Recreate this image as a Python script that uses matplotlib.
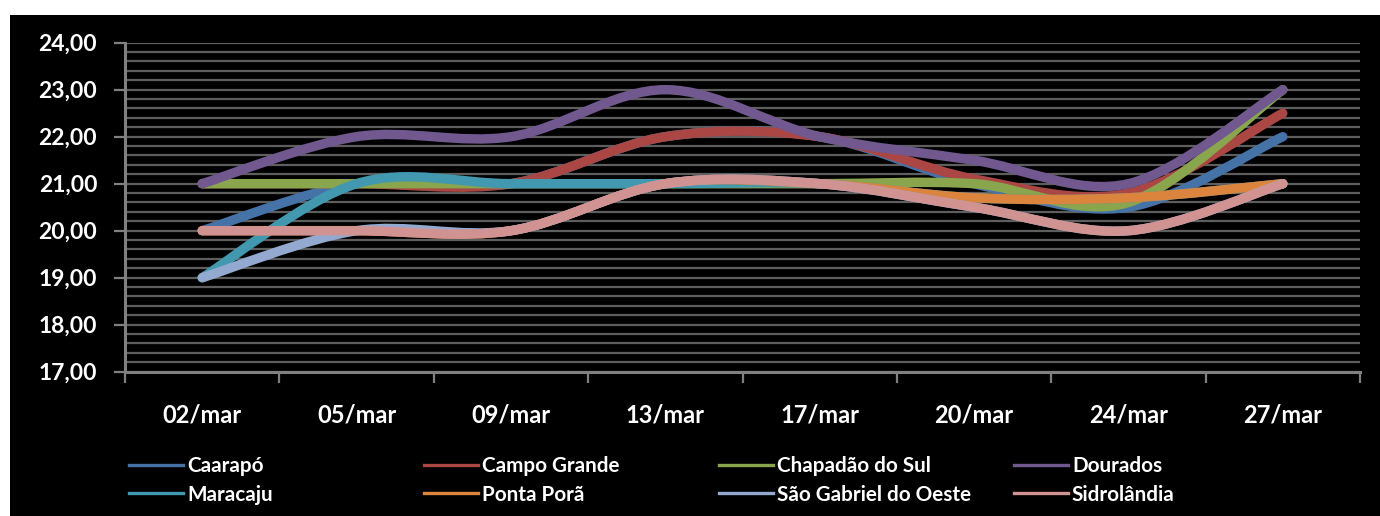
import matplotlib.pyplot as plt
import numpy as np
from matplotlib.path import Path
from matplotlib.patches import PathPatch, Rectangle
from matplotlib.lines import Line2D
from matplotlib.ticker import MultipleLocator, FixedLocator, NullFormatter

plt.rcParams['font.family'] = ['Lato', 'DejaVu Sans']
plt.rcParams['font.weight'] = 'bold'

# Dates on the category axis
dates = ['02/mar', '05/mar', '09/mar', '13/mar', '17/mar', '20/mar', '24/mar', '27/mar']

# Values per city
caarapo = [20.0, 21.0, 21.0, 22.0, 22.0, 21.0, 20.5, 22.0]
campo_grande = [21.0, 21.0, 21.0, 22.0, 22.0, 21.1, 20.8, 22.5]
chapadao = [21.0, 21.0, 21.0, 21.0, 21.0, 21.0, 20.6, 23.0]
dourados = [21.0, 22.0, 22.0, 23.0, 22.0, 21.5, 21.0, 23.0]
maracaju = [19.0, 21.0, 21.0, 21.0, 21.0, 20.7, 20.7, 21.0]
ponta_pora = [20.0, 20.0, 20.0, 21.0, 21.0, 20.7, 20.7, 21.0]
sao_gabriel = [19.0, 20.0, 20.0, 21.0, 21.0, 20.5, 20.0, 21.0]
sidrolandia = [20.0, 20.0, 20.0, 21.0, 21.0, 20.5, 20.0, 21.0]

names = ['Caarapó', 'Campo Grande', 'Chapadão do Sul', 'Dourados',
         'Maracaju', 'Ponta Porã', 'São Gabriel do Oeste', 'Sidrolândia']
series = [caarapo, campo_grande, chapadao, dourados,
          maracaju, ponta_pora, sao_gabriel, sidrolandia]
colors = ['#4572A7', '#AA4643', '#89A54E', '#71588F',
          '#4198AF', '#DB843D', '#93A9CF', '#D19392']


def smooth_path(xs, ys):
    # Catmull-Rom style bezier through every point (spreadsheet "smoothed line")
    pts = np.column_stack([xs, ys]).astype(float)
    n = len(pts)
    verts = [pts[0]]
    codes = [Path.MOVETO]
    for i in range(n - 1):
        p0 = pts[max(i - 1, 0)]
        p1 = pts[i]
        p2 = pts[i + 1]
        p3 = pts[min(i + 2, n - 1)]
        c1 = p1 + (p2 - p0) / 6.0
        c2 = p2 - (p3 - p1) / 6.0
        verts += [c1, c2, p2]
        codes += [Path.CURVE4] * 3
    return Path(verts, codes)


W, H = 1380, 516
fig = plt.figure(figsize=(W / 100, H / 100), dpi=100, facecolor='white')
fig.patches.append(Rectangle((10 / W, 0), 1 - 10 / W, 1 - 15 / H,
                             transform=fig.transFigure, facecolor='black',
                             edgecolor='none', zorder=-10))

ax = fig.add_axes([125 / W, 1 - 371.7 / H, (1360 - 125) / W, (371.7 - 42.7) / H])
ax.set_facecolor('black')

x = np.arange(len(dates))
for vals, col in zip(series, colors):
    patch = PathPatch(smooth_path(x, vals), facecolor='none', edgecolor=col,
                      lw=6.8, capstyle='round', joinstyle='round', zorder=3)
    ax.add_patch(patch)

ax.set_xlim(-0.5, len(dates) - 0.5)
ax.set_ylim(17, 24)

# horizontal grid every 0.2
ax.yaxis.set_major_locator(MultipleLocator(1))
ax.yaxis.set_minor_locator(MultipleLocator(0.2))
ax.grid(True, axis='y', which='both', color='#5e5e5e', lw=1.6, zorder=1)
ax.set_axisbelow(True)
ax.set_yticklabels([f'{v:.2f}'.replace('.', ',') for v in ax.get_yticks()])
ax.tick_params(axis='y', which='major', direction='out', length=8, width=1.6,
               color='#808080', labelcolor='white', labelsize=16.5, pad=12)
ax.tick_params(axis='y', which='minor', length=0)

# category axis: ticks between categories, labels in the middle
ax.xaxis.set_major_locator(FixedLocator(np.arange(-0.5, len(dates), 1.0)))
ax.xaxis.set_major_formatter(NullFormatter())
ax.xaxis.set_minor_locator(FixedLocator(x))
ax.set_xticklabels(dates, minor=True)
ax.tick_params(axis='x', which='major', direction='out', length=8, width=1.6,
               color='#808080')
ax.tick_params(axis='x', which='minor', length=0, labelcolor='white',
               labelsize=17, pad=23)

for side in ['top', 'right']:
    ax.spines[side].set_visible(False)
for side in ['left', 'bottom']:
    ax.spines[side].set_color('#808080')
    ax.spines[side].set_linewidth(2.2)

# legend: four columns of two rows
col_x = [129, 424, 719, 1014]
for c in range(4):
    idx = [c, c + 4]
    handles = [Line2D([], [], color=colors[i], lw=2.4) for i in idx]
    leg = fig.legend(handles, [names[i] for i in idx], loc='upper left',
                     bbox_to_anchor=(col_x[c] / W, 1 - 456 / H),
                     frameon=False, borderpad=0, borderaxespad=0,
                     handlelength=2.6, handletextpad=0.2, labelspacing=0.42,
                     prop={'size': 14.9, 'weight': 'bold'})
    for t in leg.get_texts():
        t.set_color('white')

fig.savefig('out.png', dpi=100, facecolor=fig.get_facecolor())
